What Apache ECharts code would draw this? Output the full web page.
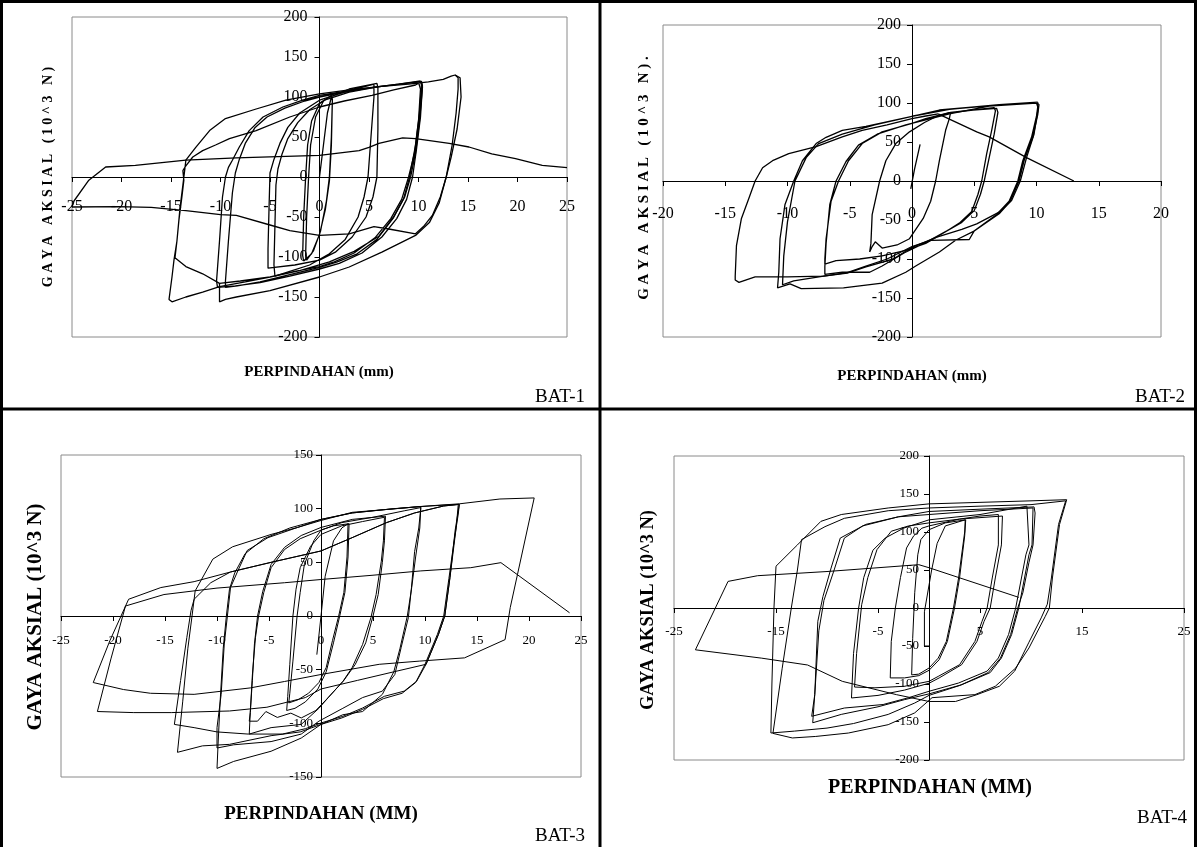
<!DOCTYPE html>
<html><head><meta charset="utf-8">
<script src="https://cdn.jsdelivr.net/npm/echarts@6/dist/echarts.min.js"></script>
<style>html,body{margin:0;padding:0;background:#fff}#c{width:1197px;height:847px}</style>
</head><body><div id="c"></div>
<script>
// ---------- text ----------
const panelNames = ['BAT-1', 'BAT-2', 'BAT-3', 'BAT-4'];
const yTitles = ['G A Y A   A K S I A L   ( 1 0 ^ 3   N )', 'G A Y A   A K S I A L   ( 1 0 ^ 3   N ) .', 'GAYA AKSIAL (10^3 N)', 'GAYA AKSIAL (10^3 N)'];
const xTitles = ['PERPINDAHAN (mm)', 'PERPINDAHAN (mm)', 'PERPINDAHAN (MM)', 'PERPINDAHAN (MM)'];
// ---------- axis ticks [min, max, interval] ----------
const xTicks = [[-25, 25, 5], [-20, 20, 5], [-25, 25, 5], [-25, 25, 10]];
const yTicks = [[-200, 200, 50], [-200, 200, 50], [-150, 150, 50], [-200, 200, 50]];

// ---------- BAT-1 ----------
const bat1Cycle1 = [[0,0],[0.4,40],[0.8,80],[1.2,100],[1.3,96],[1.2,50],[1.0,0],[0.7,-30],[0.1,-68],[-0.6,-92],[-1.3,-104],[-1.4,-98],[-1.3,-50],[-1.1,0],[-0.9,40],[-0.4,75],[0.4,95],[1.2,102],[1.3,97],[1.2,40],[1.0,-5],[0.6,-40],[0,-72],[-0.8,-96],[-1.6,-105],[-1.7,-98],[-1.6,-50],[-1.4,0],[-1.2,40],[-0.8,70],[0,92],[1,100]];
const bat1Cycle5 = [[1,100],[3,110],[5.8,117],[5.9,112],[5.9,60],[5.8,0],[5.4,-25],[4.7,-50],[3.3,-75],[1.6,-94],[0,-104],[-2.5,-110],[-5.2,-114],[-5.2,-90],[-5.1,-40],[-5.0,5],[-4.6,22],[-4.0,42],[-3.2,62],[-2,80],[0,96],[2.5,106],[5.5,116],[5.5,100],[5.2,50],[4.9,0],[4.5,-25],[3.9,-50],[2.6,-78],[1,-96],[-1,-110],[-3,-118],[-4.5,-124],[-4.6,-110],[-4.5,-60],[-4.4,-10],[-4.2,10],[-3.8,28],[-3.2,48],[-2.2,68],[-1,84],[0.5,96],[3,106],[6,113],[8,116],[10.2,120]];
const bat1Cycle10 = [[10.2,120],[10.3,115],[10.1,80],[9.7,40],[9.1,0],[8.5,-27],[7.4,-52],[5.8,-78],[3.8,-96],[1.8,-106],[0,-113],[-3,-122],[-6,-131],[-8.3,-136],[-9.5,-138],[-9.5,-130],[-9.2,-80],[-8.8,-20],[-8.5,5],[-8.1,22],[-7.5,42],[-6.5,62],[-5.3,75],[-3.5,86],[-1.5,95],[0,100],[2.5,106],[5.5,112],[8,116],[10.3,119.5],[10.4,114],[10.2,75],[9.8,35],[9.4,0],[8.8,-28],[7.8,-52],[6.3,-75],[4.3,-95],[2,-108],[0,-115],[-3,-124],[-6,-132],[-8.5,-136],[-10.3,-138],[-10.4,-130],[-10.1,-80],[-9.8,-25],[-9.5,0],[-9.2,12],[-8.8,21],[-8.1,37.5],[-7.1,58],[-5.7,75],[-3.7,87.5],[-1.7,96],[0,102],[3,108],[6,113],[8,116],[10,118.5]];
const bat1Cycle15 = [[10,118.5],[10.2,110],[10,70],[9.6,30],[9.0,0],[8.3,-28],[7.2,-52],[5.6,-76],[3.5,-95],[1.5,-106],[0,-112],[-2.5,-118],[-5,-125],[-7.5,-131],[-10.1,-137],[-11.8,-144],[-13.5,-150],[-14.9,-156],[-15.2,-153],[-14.9,-125],[-14.7,-104],[-14.4,-80],[-14.2,-54],[-13.9,-25],[-13.7,-4],[-13.8,8],[-13.5,14],[-12.8,25],[-11.8,33],[-10.5,40],[-9.1,48],[-6.4,58],[-3,75],[0,87.5],[2.5,95],[5.3,102],[7.5,109],[9.7,115],[10.3,119],[10.4,112],[10.1,70],[9.7,30],[9.2,0],[8.6,-25],[7.5,-50],[6,-74],[3.5,-93],[1,-106],[-2,-117],[-5,-125],[-8,-130],[-10.1,-133],[-11.8,-121],[-13.5,-112],[-14.6,-101],[-14.4,-80],[-14.1,-40],[-13.8,-10],[-13.6,10],[-13.5,21],[-12.5,37],[-11.1,58],[-9.5,73],[-6.4,85],[-3.4,96],[0,104],[3,109],[6,113],[9,116],[11,119],[12.5,122],[13.3,126],[13.7,127.5],[14.2,124],[14.3,100],[13.9,60],[13.3,25],[12.8,0],[12.2,-25],[11.4,-48],[10.5,-62],[9.7,-71],[7,-65],[5.5,-62],[3,-71],[0,-73],[-3,-67],[-5,-60],[-8.4,-48],[-10,-47],[-13.5,-42],[-17,-38],[-20.3,-37],[-25,-37.5]];
const bat1Branch = [[-10.1,-133],[-10.1,-156],[-9.5,-153],[-8.4,-150],[-5,-142],[0,-125],[3,-112.5],[6.3,-94],[9.7,-73],[11.1,-57],[12.1,-32],[12.8,0],[13.4,40],[13.8,80],[14,110],[14,124],[13.7,127.5]];
const bat1Final = [[-25,-37.5],[-24.8,-30],[-23.3,-4],[-21.6,12.5],[-18.6,14.6],[-13.5,21],[-8.4,24],[0,27],[4,33],[5,37],[6,42],[8.4,49],[9.7,48],[13.1,42],[15.1,37.5],[17.4,29],[19.8,23],[22.5,14.6],[25,11.7]];

// ---------- BAT-2 ----------
const bat2Start = [[-0.1,-10],[0.2,15],[0.65,47]];
const bat2Cycle3 = [[-3.4,-91],[-3.3,-80],[-3.2,-43],[-2.6,0],[-2.1,26],[-1.3,48],[-0.2,63],[1,75],[2,83],[3.1,88],[3,80],[2.7,65],[2.2,26],[1.9,0],[1.5,-26],[0.9,-48],[-0.2,-74],[-1.2,-82],[-2.4,-86],[-2.95,-78],[-3.2,-84],[-3.4,-91]];
const bat2Cycle7 = [[3.1,88],[4.9,91],[6.6,94],[6.7,90],[6.4,65],[6,35],[5.6,0],[5.3,-17],[4.8,-39],[3.8,-54],[2.7,-65],[1.1,-80],[-0.5,-89],[-2.4,-96],[-4.2,-100],[-6.1,-102],[-7,-106.5],[-7,-100],[-6.9,-74],[-6.5,-26],[-5.9,0],[-5.1,26],[-4,48],[-2.4,63],[0,74],[1.1,80],[3,87.5],[4.9,91],[6.8,93],[6.9,88],[6.6,60],[6.2,30],[5.8,0],[5.5,-17],[5,-38],[4,-53],[2.8,-64],[1.2,-78],[-0.6,-92],[-2.4,-109],[-3.4,-117],[-5.6,-117],[-7,-119.6],[-7,-110],[-6.9,-80],[-6.6,-30],[-6.1,0],[-5.3,25],[-4.3,46],[-2.8,60],[-0.5,72],[1.5,80],[3,86]];
const bat2Cycle10 = [[3,86],[6.2,96],[10,100],[10.1,95],[10,83],[9.6,56],[8.9,26],[8.5,0],[7.8,-26],[6.8,-43],[4.9,-65],[3.5,-76],[2.2,-91],[0.3,-109],[-0.5,-117],[-2.4,-131],[-5.5,-137],[-8.9,-138],[-9.8,-132],[-10.8,-137],[-10.7,-117],[-10.6,-74],[-10.2,-30],[-9.5,0],[-8.8,26],[-7.7,48],[-6.9,56],[-5.6,65],[-3.7,70],[0,83],[2.2,91],[6.2,96.5],[10,100],[10.2,98],[10.1,85],[9.7,56],[9,26],[8.6,0],[7.9,-26],[7,-42],[5,-64],[4.6,-75],[1.5,-76],[0,-84],[-2,-100],[-3.7,-109],[-5.2,-117.5],[-7.1,-122],[-9.5,-128],[-10.4,-133],[-10.3,-96],[-10,-52],[-9.4,0],[-8.5,30],[-7.5,48],[-5.6,60],[-3,72],[0,83],[3,92],[7,98],[10.1,101]];
const bat2Cycle14 = [[10.1,101],[10.1,90],[9.8,60],[9.2,30],[8.7,0],[8,-25],[7,-40],[5.2,-55],[4,-62],[2,-72],[0,-85],[-1.5,-100],[-3.7,-110],[-5.2,-118],[-7.1,-122],[-10,-123],[-12.6,-123],[-13.9,-130],[-14.2,-127],[-14.2,-122],[-14.1,-83],[-13.7,-48],[-13.1,-22],[-12.6,0],[-12,17],[-11.2,26],[-9.9,35],[-7.7,44],[-5.6,56.5],[-4,65],[-2,72],[0,80],[1,83],[2.1,86]];
const bat2Final = [[2.1,86],[5.2,63],[6.2,56.5],[9.2,30],[13,0]];

// ---------- BAT-3 ----------
const bat3Start = [[-0.4,-36],[0,0],[0.4,37]];
const bat3Cycle3 = [[0.4,37],[1.2,70],[2,82],[2.6,86],[2.5,55],[2.2,22],[1.7,0],[1.1,-23],[0.5,-48],[-0.2,-62],[-1.2,-72],[-2.2,-78],[-3.1,-81],[-3,-72],[-2.7,-42],[-2.3,0],[-2,22],[-1.6,48],[-0.7,70],[0,80],[1.2,84],[2.7,86],[2.6,55],[2.3,22],[1.8,0],[1.2,-25],[0.5,-52],[-0.3,-68],[-1.5,-80],[-2.5,-86],[-3.3,-88]];
const bat3Cycle6 = [[-3.3,-88],[-3.2,-75],[-3,-45],[-2.7,0],[-2.4,25],[-2,45],[-1,65],[0,76],[2,84],[4,88],[6.1,92],[6,70],[5.8,51],[5.3,20],[4.8,-1.5],[4,-26.5],[3,-48],[2.1,-61],[0.5,-78],[-0.5,-88],[-1.9,-95],[-2.9,-90.5],[-4.2,-94.5],[-5.3,-89],[-6.1,-98],[-6.9,-98],[-6.8,-90],[-6.6,-60],[-6.4,-26],[-6.1,0],[-5.6,23],[-4.8,48],[-3.5,64],[-1.9,75],[0,82.5],[3,90],[6.2,93],[6.1,70],[5.9,50],[5.5,20],[5,0],[4.3,-25],[3.3,-45],[2.2,-60],[0.7,-76],[-0.2,-86],[-1.9,-101],[-4.8,-104],[-6.9,-110]];
const bat3Cycle10 = [[-6.9,-110],[-6.8,-90],[-6.6,-55],[-6.3,-20],[-6,0],[-5.5,22],[-4.8,45],[-3.5,62],[-2,72],[0,80],[2,87],[5,92],[8,98],[9.6,101],[9.4,82],[9,60],[8.7,26.5],[8.4,-1.5],[7.7,-29.6],[7.1,-54.5],[5.9,-70],[4,-76],[2.1,-86],[-0.2,-98],[-1.9,-110],[-4.8,-117],[-8.4,-120],[-10,-123],[-10,-104],[-9.6,-73],[-9.3,-26],[-9,0],[-8.7,26.5],[-8,42],[-7.1,61],[-5.1,73],[-2.25,82.5],[0,89],[3,96.6],[6,99],[9.6,102],[9.5,82],[9.1,55],[8.7,25],[8.3,0],[7.6,-30],[7,-52],[5.9,-73],[4,-89],[2.1,-92],[0,-101],[-1.9,-113.7],[-4.8,-126],[-8.4,-135.5],[-10,-142]];
const bat3Cycle13 = [[-10,-142],[-9.9,-120],[-9.7,-80],[-9.4,-30],[-9.1,0],[-8.8,25],[-8.3,40],[-7.3,58],[-5.5,72],[-3,82],[0,90],[3,96],[6,99],[9.5,102],[13.2,104],[13,82.5],[12.4,35.8],[11.9,0],[11.3,-17],[10.1,-45],[9.2,-60.7],[8,-70],[6.1,-74.8],[4,-85.7],[2.1,-93.5],[0,-99.7],[-1.5,-105],[-3.7,-110],[-7,-110],[-10,-108],[-12.2,-104],[-14.1,-101],[-13.5,-60],[-12.9,-20],[-12.5,5],[-12.2,15.6],[-10.6,31],[-8.7,41],[-4.8,50],[0,60.6],[3,73],[6.3,87],[9,96],[11.8,102.5],[13.3,104],[13.2,95],[12.8,70],[12.3,35],[11.8,0],[11.2,-17],[10,-45],[9.1,-62],[7.8,-72],[6,-77],[4,-87],[2,-95],[0,-101],[-2,-108],[-4.8,-111.5],[-8.8,-119.6],[-11.4,-121],[-13.8,-127],[-13.3,-80],[-12.8,-30],[-12.4,0],[-12.1,23.4],[-10.4,53],[-8.5,64.5],[-4.8,76],[-2.25,82.5],[0,90]];
const bat3Cycle20 = [[0,90],[3,96],[7,100],[11,103],[13.3,104.5],[17.2,109],[20.5,110],[18.9,39],[18.2,8],[17.7,-22],[13.8,-39],[9.5,-42],[5.6,-45],[0,-54.5],[-3.5,-61],[-6.8,-67],[-12.2,-73],[-16.4,-72],[-19,-68.5],[-21.9,-62],[-20.3,-23],[-18.5,15.6],[-15.4,26.5],[-12.2,32],[-8.7,41],[-4.8,50],[0,60.6],[3,73],[6.3,87],[9,96],[11.8,102.5],[13.3,104],[12.9,80],[12.4,35.8],[11.9,0],[11.3,-17],[10.1,-45]];
const bat3Final = [[10.1,-45],[7,-52],[3.5,-60],[0,-68],[-1.5,-76],[-5.2,-85],[-8.8,-88.5],[-14.4,-90],[-18,-90],[-21.5,-89],[-20.2,-40],[-18.8,9.3],[-15.1,20],[-10,26],[-3.5,31],[0,34],[5,38],[9.6,42],[14.4,45],[17.3,49.7],[23.9,3]];

// ---------- BAT-4 ----------
const bat4Start = [[0,-50],[-0.45,-50],[-0.45,-5],[0.26,50]];
const bat4Cycle4 = [[0.26,50],[0.8,85],[1.6,108],[3.55,116],[3.5,100],[2.9,39.5],[2.4,0],[1.7,-44],[0.9,-66],[0,-79],[-1,-87],[-1.7,-88],[-1.6,-40],[-1.4,20],[-1.1,70],[-0.8,90],[0,103],[1.6,112],[3.6,116],[3.5,95],[3,40],[2.5,0],[1.8,-44],[1,-68],[0,-82],[-1,-89],[-2.4,-92],[-3.8,-92],[-3.7,-44],[-3.3,0],[-2.8,40],[-2.2,79],[-1.5,95],[-0.7,105],[0,108],[3,117]];
const bat4Cycle7 = [[3,117],[5,121],[6.8,123],[6.8,83],[6.2,39.5],[5.7,0],[5.2,-17.5],[4.5,-44],[3,-74.6],[0.9,-90],[0,-96.5],[-2.4,-103],[-5.3,-105],[-7.3,-104],[-7.1,-60],[-6.6,4.4],[-6,40],[-5.1,76.8],[-3.7,101],[-2,108],[0,112],[3,117],[7.2,121],[7.1,83],[6.5,39.5],[6,0],[5.4,-17.5],[4.7,-44],[3.2,-74.6],[1,-92],[0,-99],[-2.4,-108],[-5,-115],[-7.6,-118.4],[-7.4,-60],[-6.9,0],[-6.4,40],[-5.5,76],[-4.3,92],[-2.5,105],[0,116],[5,123],[9.6,134]];
const bat4Cycle11 = [[9.6,134],[9.8,83],[9.5,70],[8.5,0],[7.8,-35],[6.8,-65.8],[5.7,-83],[2.9,-98.7],[0,-109.6],[-2,-118],[-4.5,-127],[-8.3,-131.6],[-11.5,-142.5],[-11.2,-114],[-10.9,-17.5],[-10.4,15],[-9.6,52.6],[-8.7,92],[-6.2,110],[-3,120],[0,123],[5,128],[10.2,131.6],[10.1,83],[9.8,70],[8.8,0],[8.1,-35],[7.1,-65.8],[6,-85],[3.2,-101],[0,-113],[-2.4,-120.6],[-5,-130],[-8.6,-140],[-11.4,-151],[-11.2,-114],[-10.8,-30],[-10.3,10],[-9.3,50],[-8.3,92],[-6.5,108],[-3,120],[0,127]];
const bat4Cycle15 = [[0,127],[5,130],[10.3,133],[10.4,125],[10.2,83],[9.8,60],[9.2,20],[8.7,0],[8,-35],[7,-66],[5.8,-85],[3,-102],[0,-115],[-1.4,-125],[-4,-140],[-7.4,-152],[-10,-158],[-13.2,-162],[-15.5,-164.5],[-15.4,-100],[-15.2,0],[-15,55],[-12.9,83],[-10.6,114],[-8.6,123],[-4,131.6],[0,137],[5,139],[10,141],[13.5,142.5],[12.8,110],[12.1,39.5],[11.8,0],[11.4,-11],[9.8,-52.6],[8.5,-79],[6.5,-103],[4.5,-114],[0.3,-118],[-1.4,-138],[-4,-153.5],[-7.9,-164.5],[-11.1,-169],[-13.4,-171],[-15.3,-165],[-14.4,-80],[-13.5,0],[-12.9,50],[-12.5,90],[-10.2,107],[-8.3,118],[-4,128],[0,131.6],[5,134],[10,136],[13.4,141],[12.7,110],[12,39.5],[11.6,5],[11,-13],[9.8,-45],[8.4,-83],[6.9,-103],[4.7,-114],[2.6,-123],[0,-123]];
const bat4Final = [[0,-123],[-3.2,-114],[-8.5,-96.5],[-11.9,-75],[-16.4,-66],[-22.9,-55],[-19.7,35],[-16.8,42.5],[-10,48],[-5,53],[-1,57],[0,53],[8.8,14]];

const panelLines = [
  [bat1Cycle1, bat1Cycle5, bat1Cycle10, bat1Cycle15, bat1Branch, bat1Final],
  [bat2Start, bat2Cycle3, bat2Cycle7, bat2Cycle10, bat2Cycle14, bat2Final],
  [bat3Start, bat3Cycle3, bat3Cycle6, bat3Cycle10, bat3Cycle13, bat3Cycle20, bat3Final],
  [bat4Start, bat4Cycle4, bat4Cycle7, bat4Cycle11, bat4Cycle15, bat4Final]
];

// ---------- layout / style ----------
const SERIF = "'Liberation Serif','Times New Roman',serif";
const layout = [
  {grid:{left:72, top:17, width:495, height:320}, fs:16, xm:22, ym:12, lw:1.3,
   yt:{x:48, y:177, size:14}, xt:{x:319, y:372, size:15}, nm:{x:560, y:397}},
  {grid:{left:663, top:25, width:498, height:312}, fs:16, xm:25, ym:11, lw:1.3,
   yt:{x:644, y:178, size:15}, xt:{x:912, y:376, size:15}, nm:{x:1160, y:397}},
  {grid:{left:61, top:455, width:520, height:322}, fs:13, xm:18, ym:8, lw:1,
   yt:{x:36, y:617, size:21}, xt:{x:321, y:814, size:19}, nm:{x:560, y:836}},
  {grid:{left:674, top:456, width:510, height:304}, fs:13, xm:17, ym:10, lw:1,
   yt:{x:648, y:610, size:18.5}, xt:{x:930, y:788, size:20}, nm:{x:1162, y:818}}
];

const grids = [], xAxes = [], yAxes = [], series = [], graphics = [];
layout.forEach((L, i) => {
  grids.push(Object.assign({show:true, borderColor:'#8a8a8a', borderWidth:1, backgroundColor:'transparent', containLabel:false}, L.grid));
  const axisCommon = (t, margin, pos, off) => ({
    gridIndex:i, type:'value', min:t[0], max:t[1], interval:t[2], position:pos, offset:off,
    axisLine:{show:true, onZero:false, lineStyle:{color:'#000', width:1}},
    axisTick:{show:true, length:5, inside:false, lineStyle:{color:'#000', width:1}},
    axisLabel:{show:true, color:'#000', fontFamily:SERIF, fontSize:L.fs, margin:margin, showMinLabel:true, showMaxLabel:true, hideOverlap:false},
    splitLine:{show:false}
  });
  // axes cross at zero, which is the centre of each symmetric plot area
  xAxes.push(axisCommon(xTicks[i], L.xm, 'bottom', -L.grid.height / 2));
  yAxes.push(axisCommon(yTicks[i], L.ym, 'left', -L.grid.width / 2));
  panelLines[i].forEach(d => series.push({
    type:'line', xAxisIndex:i, yAxisIndex:i, data:d, showSymbol:false, symbol:'none',
    smooth:false, silent:true, clip:true, lineStyle:{color:'#000', width:L.lw}, z:3
  }));
  graphics.push({type:'text', x:L.yt.x, y:L.yt.y, rotation:Math.PI/2,
    style:{text:yTitles[i], fill:'#000', font:'bold ' + L.yt.size + 'px ' + SERIF, align:'center', verticalAlign:'middle', textAlign:'center', textVerticalAlign:'middle'}});
  graphics.push({type:'text', x:L.xt.x, y:L.xt.y,
    style:{text:xTitles[i], fill:'#000', font:'bold ' + L.xt.size + 'px ' + SERIF, align:'center', verticalAlign:'middle', textAlign:'center', textVerticalAlign:'middle'}});
  graphics.push({type:'text', x:L.nm.x, y:L.nm.y,
    style:{text:panelNames[i], fill:'#000', font:'19px ' + SERIF, align:'center', verticalAlign:'middle', textAlign:'center', textVerticalAlign:'middle'}});
});
// table frame
const frame = [[1.5,0,1.5,847],[0,1.5,1197,1.5],[1195.5,0,1195.5,847],[600,0,600,847],[0,409,1197,409]];
frame.forEach(f => graphics.push({type:'line', shape:{x1:f[0], y1:f[1], x2:f[2], y2:f[3]}, style:{stroke:'#000', lineWidth:3}, z:10}));

const chart = echarts.init(document.getElementById('c'), null, {renderer:'canvas'});
chart.setOption({
  animation:false, backgroundColor:'#fff',
  grid:grids, xAxis:xAxes, yAxis:yAxes, series:series, graphic:graphics
});
</script></body></html>
